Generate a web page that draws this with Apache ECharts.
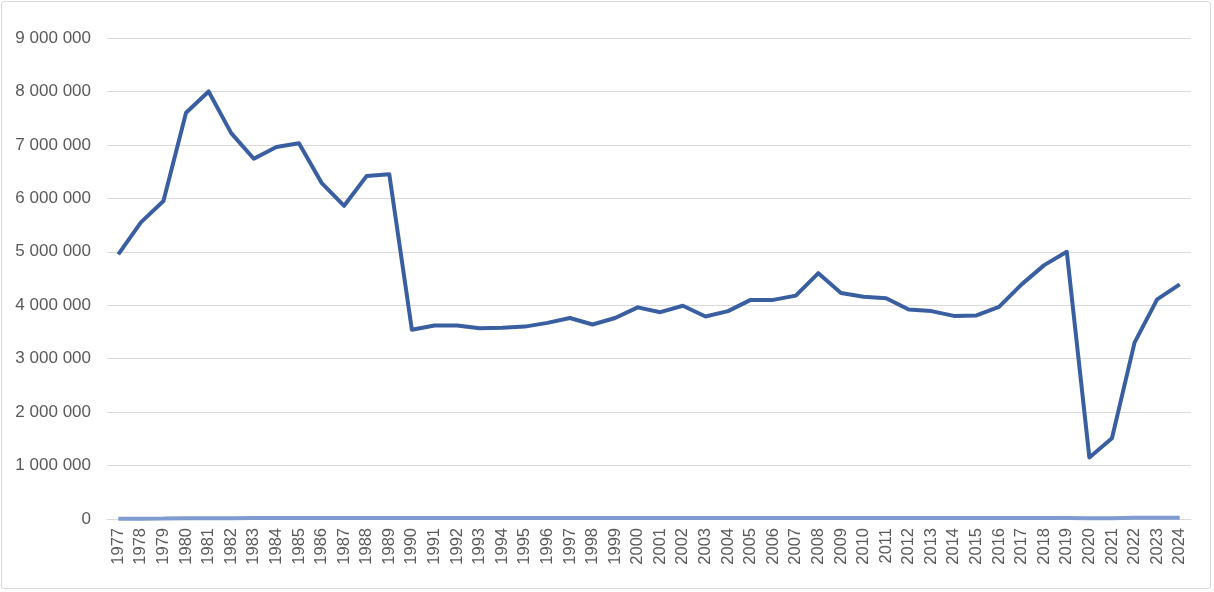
<!DOCTYPE html>
<html>
<head>
<meta charset="utf-8">
<script src="https://cdn.jsdelivr.net/npm/echarts@6/dist/echarts.min.js"></script>
<style>
html, body { margin: 0; padding: 0; background: #fff; }
#frame { position: absolute; left: 1px; top: 1px; width: 1210px; height: 588px; border: 1px solid #d9d9d9; border-radius: 3px; box-sizing: border-box; }
#chart { position: absolute; left: 0; top: 0; width: 1214px; height: 592px; }
</style>
</head>
<body>
<div id="frame"></div>
<div id="chart"></div>
<script>
// années
var years = [];
for (var y = 1977; y <= 2024; y++) {
	years.push(String(y));
}

// série principale
var mainValues = [
	4950000, 5550000, 5950000, 7600000, 8000000, 7220000, 6740000, 6960000, 7030000, 6290000,
	5860000, 6420000, 6450000, 3540000, 3620000, 3620000, 3570000, 3580000, 3600000, 3670000,
	3760000, 3640000, 3760000, 3960000, 3870000, 3990000, 3790000, 3890000, 4100000, 4100000,
	4180000, 4600000, 4230000, 4160000, 4130000, 3920000, 3890000, 3800000, 3810000, 3970000,
	4390000, 4750000, 5000000, 1150000, 1510000, 3300000, 4110000, 4390000
];

// petite série proche de zéro
var smallValues = [
	6000, 7000, 8000, 15000, 16000, 16000, 17000, 17000, 17000, 17000,
	17000, 17000, 17000, 17000, 17000, 17000, 17000, 17000, 17000, 17000,
	18000, 18000, 18000, 18000, 18000, 18000, 18000, 18000, 18000, 18000,
	18000, 18000, 18000, 18000, 18000, 18000, 18000, 18000, 18000, 18000,
	18000, 18000, 18000, 12000, 14000, 22000, 24000, 24000
];

function fmt(v) {
	return String(v).replace(/\B(?=(\d{3})+(?!\d))/g, ' ');
}

var myChart = echarts.init(document.getElementById('chart'));
var option = {
	animation: false,
	grid: {
		left: 107,
		right: 23,
		top: 38,
		bottom: 73
	},
	xAxis: {
		type: 'category',
		data: years,
		boundaryGap: true,
		axisTick: { show: false },
		axisLine: { lineStyle: { color: '#d9d9d9', width: 1 } },
		axisLabel: {
			rotate: 90,
			interval: 0,
			color: '#595959',
			fontSize: 16.5,
			fontFamily: 'Liberation Sans, Arial, sans-serif',
			margin: 9
		}
	},
	yAxis: {
		type: 'value',
		min: 0,
		max: 9000000,
		interval: 1000000,
		axisLine: { show: false },
		axisTick: { show: false },
		splitLine: { lineStyle: { color: '#d9d9d9', width: 1 } },
		axisLabel: {
			color: '#595959',
			fontSize: 17,
			fontFamily: 'Liberation Sans, Arial, sans-serif',
			margin: 16,
			formatter: fmt
		}
	},
	series: [{
		type: 'line',
		data: smallValues,
		symbol: 'none',
		lineStyle: { color: '#7f9bd0', width: 4 },
		z: 2
	}, {
		type: 'line',
		data: mainValues,
		symbol: 'none',
		lineStyle: { color: '#3a5fa0', width: 4, join: 'round' },
		z: 3
	}]
};
myChart.setOption(option);
</script>
</body>
</html>
